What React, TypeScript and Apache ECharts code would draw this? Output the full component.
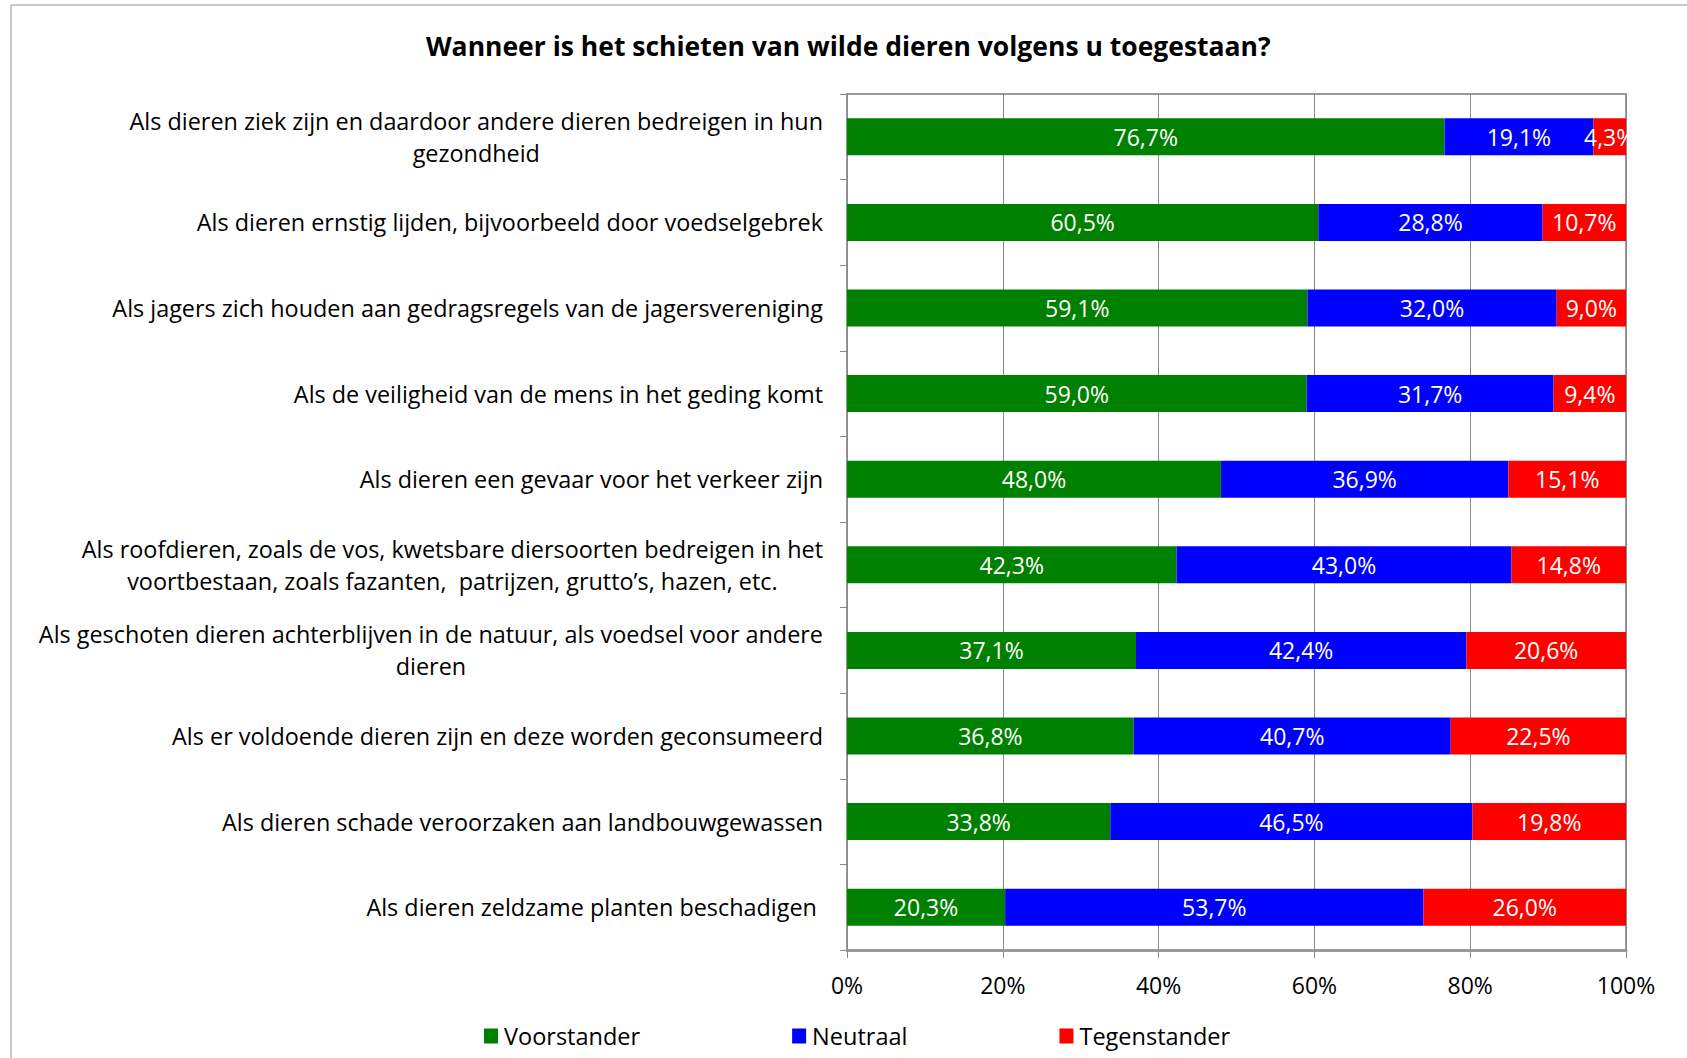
import React, { useEffect, useRef } from "react";
import * as echarts from "echarts";

const title = "Wanneer is het schieten van wilde dieren volgens u toegestaan?";

const categories = [
  "Als dieren ziek zijn en daardoor andere dieren bedreigen in hun\ngezondheid",
  "Als dieren ernstig lijden, bijvoorbeeld door voedselgebrek",
  "Als jagers zich houden aan gedragsregels van de jagersvereniging",
  "Als de veiligheid van de mens in het geding komt",
  "Als dieren een gevaar voor het verkeer zijn",
  "Als roofdieren, zoals de vos, kwetsbare diersoorten bedreigen in het\nvoortbestaan, zoals fazanten,  patrijzen, grutto\u2019s, hazen, etc.",
  "Als geschoten dieren achterblijven in de natuur, als voedsel voor andere\ndieren",
  "Als er voldoende dieren zijn en deze worden geconsumeerd",
  "Als dieren schade veroorzaken aan landbouwgewassen",
  "Als dieren zeldzame planten beschadigen ",
];

const voorstander = [76.7, 60.5, 59.1, 59.0, 48.0, 42.3, 37.1, 36.8, 33.8, 20.3];
const neutraal = [19.1, 28.8, 32.0, 31.7, 36.9, 43.0, 42.4, 40.7, 46.5, 53.7];
const tegenstander = [4.3, 10.7, 9.0, 9.4, 15.1, 14.8, 20.6, 22.5, 19.8, 26.0];

const seriesNames = ["Voorstander", "Neutraal", "Tegenstander"];
const seriesColors = ["#008000", "#0000FF", "#FF0000"];

const FONT = "'Open Sans', sans-serif";

export default function App() {
  const ref = useRef<HTMLDivElement>(null);

  useEffect(() => {
    document.body.style.margin = "0";
    if (!ref.current) return;
    const chart = echarts.init(ref.current, undefined, { renderer: "svg" });
    const fmt = (p: any) => p.value.toFixed(1).replace(".", ",") + "%";
    const dataSets = [voorstander, neutraal, tegenstander];
    chart.setOption({
      animation: false,
      backgroundColor: "#ffffff",
      textStyle: { fontFamily: FONT },
      title: {
        text: title,
        left: 421,
        top: 27,
        textStyle: { fontFamily: FONT, fontSize: 26.5, fontWeight: "bold", color: "#000" },
      },
      legend: {
        left: 479,
        top: 1019,
        itemWidth: 14,
        itemHeight: 15,
        itemGap: 152,
        icon: "rect",
        textStyle: { fontFamily: FONT, fontSize: 23.5, color: "#000", padding: [0, 0, 0, 1] },
        data: seriesNames,
      },
      grid: {
        left: 847,
        right: 61,
        top: 94,
        bottom: 108,
        show: true,
        borderColor: "#9a9a9a",
        borderWidth: 2,
        containLabel: false,
      },
      xAxis: {
        type: "value",
        min: 0,
        max: 100,
        interval: 20,
        axisLine: { show: true, lineStyle: { color: "#9a9a9a", width: 3 } },
        axisTick: { show: true, length: 8, lineStyle: { color: "#8a8a8a" } },
        splitLine: { show: true, lineStyle: { color: "#8a8a8a", width: 1 } },
        axisLabel: {
          formatter: "{value}%",
          fontFamily: FONT,
          fontSize: 23,
          color: "#000",
          margin: 23,
        },
      },
      yAxis: {
        type: "category",
        inverse: true,
        data: categories,
        axisLine: { show: true, lineStyle: { color: "#8a8a8a", width: 1 } },
        axisTick: { show: true, length: 7, alignWithLabel: false, lineStyle: { color: "#8a8a8a" } },
        axisLabel: {
          margin: 24,
          align: "right",
          fontFamily: FONT,
          fontSize: 23.4,
          color: "#000",
          lineHeight: 32,
          formatter: (v: string) =>
            v
              .split("\n")
              .map((l) => "{c|" + l + "}")
              .join("\n"),
          rich: {
            c: { align: "center", fontFamily: FONT, fontSize: 23.4, color: "#000", lineHeight: 32 },
          },
        },
      },
      graphic: [
        { type: "line", shape: { x1: 11, y1: 5, x2: 1687, y2: 5 }, style: { stroke: "#c8c8c8", lineWidth: 2 } },
        { type: "line", shape: { x1: 11, y1: 5, x2: 11, y2: 1058 }, style: { stroke: "#c8c8c8", lineWidth: 2 } },
      ],
      series: seriesNames.map((name, i) => ({
        name,
        type: "bar",
        stack: "total",
        barWidth: 37,
        data: dataSets[i],
        itemStyle: { color: seriesColors[i] },
        label: {
          show: true,
          position: "inside",
          color: "#fff",
          fontFamily: FONT,
          fontSize: 23,
          formatter: fmt,
        },
      })),
    });
    return () => chart.dispose();
  }, []);

  return <div ref={ref} style={{ width: 1687, height: 1058 }} />;
}
